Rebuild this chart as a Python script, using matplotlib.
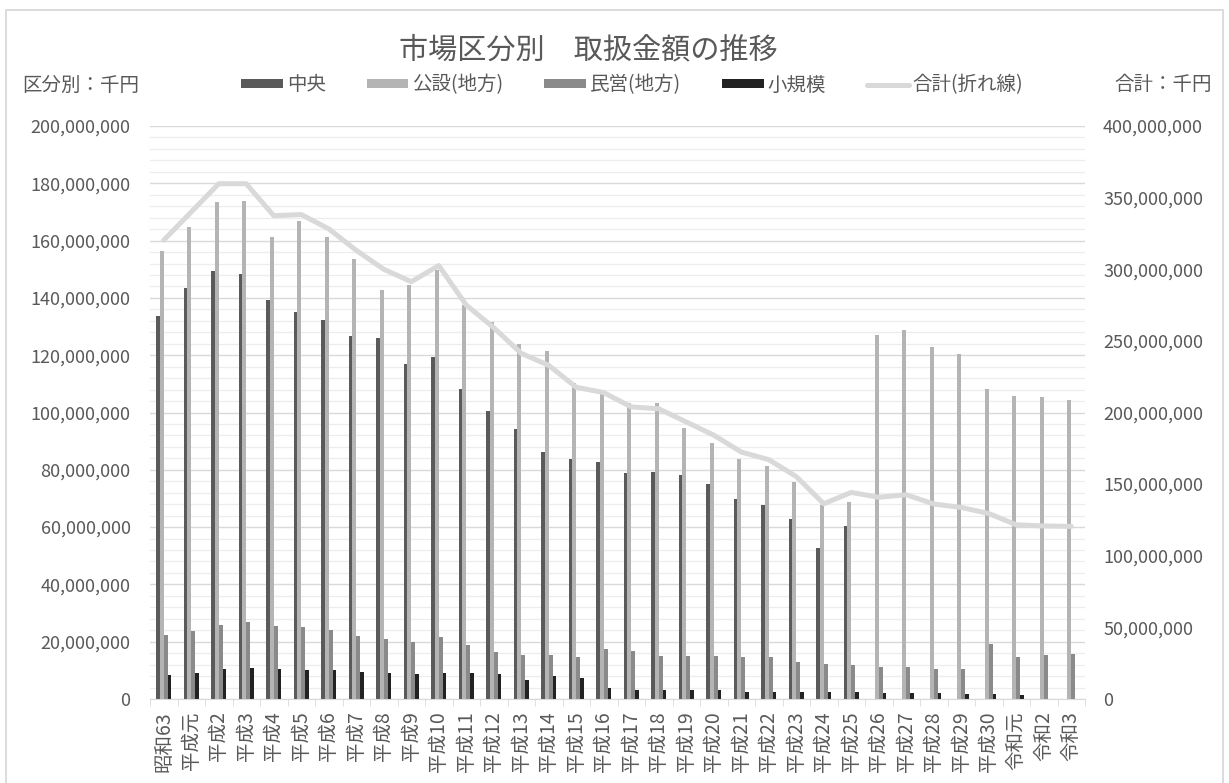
import numpy as np
import matplotlib
matplotlib.use("Agg")
import matplotlib.pyplot as plt
from matplotlib.ticker import FuncFormatter, MultipleLocator
from matplotlib.patches import Rectangle

plt.rcParams['font.family'] = ['Noto Sans CJK JP', 'DejaVu Sans']

# Data (千円)
years = ['昭和63', '平成元'] + [f'平成{i}' for i in range(2, 31)] + ['令和元', '令和2', '令和3']
series = ['中央', '公設(地方)', '民営(地方)', '小規模']
chuo = [133.6, 143.4, 149.3, 148.2, 139.3, 135.1, 132.2, 126.7, 126.1, 116.8, 119.3,
        108.3, 100.5, 94.3, 86.2, 83.9, 82.8, 78.9, 79.3, 78.2, 75.0, 69.7,
        67.8, 63.0, 52.6, 60.4, 0, 0, 0, 0, 0, 0, 0, 0]
kosetsu = [156.2, 164.6, 173.6, 173.7, 161.4, 166.7, 161.4, 153.6, 142.6, 144.6, 149.6,
           137.5, 131.6, 124.0, 121.4, 110.4, 107.8, 103.3, 103.3, 94.5, 89.2, 83.6,
           81.2, 75.9, 67.8, 68.9, 127.0, 128.9, 122.8, 120.5, 108.3, 105.9, 105.3, 104.3]
minei = [22.4, 23.7, 25.9, 27.0, 25.4, 25.3, 24.1, 22.1, 20.9, 19.9, 21.6,
         18.8, 16.4, 15.3, 15.4, 14.5, 17.6, 16.6, 15.1, 14.9, 15.1, 14.5,
         14.5, 12.8, 12.1, 11.7, 11.1, 11.1, 10.5, 10.3, 19.3, 14.5, 15.5, 15.8]
shokibo = [8.55, 9.2, 10.3, 10.8, 10.3, 10.1, 10.0, 9.5, 9.1, 8.9, 9.0,
           9.0, 8.6, 6.8, 7.9, 7.4, 3.9, 3.3, 3.3, 3.2, 3.0, 2.6,
           2.6, 2.6, 2.4, 2.5, 2.2, 2.2, 2.0, 1.8, 1.8, 1.3, 0, 0]
total = [320.3, 340.0, 359.7, 359.7, 337.4, 338.2, 328.2, 313.2, 300.0, 291.3, 302.6,
         275.0, 259.2, 241.3, 232.9, 217.6, 213.9, 203.9, 202.6, 193.4, 184.2, 172.4,
         167.1, 155.3, 136.3, 144.2, 140.8, 142.6, 136.1, 133.7, 129.5, 121.6, 120.8, 120.5]

colors = ['#5a5a5a', '#b4b4b4', '#8a8a8a', '#222222']
line_color = '#d9d9d9'
text_color = '#595959'

W, H = 1229, 783
fig = plt.figure(figsize=(W / 100, H / 100), dpi=100)
ax = fig.add_axes([150 / W, 1 - 699 / H, (1085 - 150) / W, (699 - 126) / H])

x = np.arange(len(years))
bw = 0.14
for i, (name, vals) in enumerate(zip(series, [chuo, kosetsu, minei, shokibo])):
    ax.bar(x + (i - 1.5) * bw, np.array(vals) * 1e6, bw, color=colors[i], label=name, zorder=2)

ax.set_xlim(-0.5, len(years) - 0.5)
ax.set_ylim(0, 200e6)
ax.yaxis.set_major_locator(MultipleLocator(20e6))
ax.yaxis.set_minor_locator(MultipleLocator(4e6))
ax.yaxis.set_major_formatter(FuncFormatter(lambda v, p: f'{v:,.0f}'))
ax.grid(axis='y', which='major', color='#d9d9d9', lw=1.0, zorder=0)
ax.grid(axis='y', which='minor', color='#ededed', lw=0.9, zorder=0)
ax.set_axisbelow(True)
for s in ['top', 'left', 'right']:
    ax.spines[s].set_visible(False)
ax.spines['bottom'].set_color('#d9d9d9')
ax.set_xticks(x)
ax.set_xticklabels(years, rotation=90, fontsize=14, color=text_color, va='top')
ax.set_xticks(np.arange(-0.5, len(years), 1), minor=True)
ax.tick_params(axis='x', which='major', length=0, pad=9)
ax.tick_params(axis='x', which='minor', length=5, color='#d9d9d9')
ax.tick_params(axis='y', which='both', length=0, pad=14, labelsize=13, labelcolor=text_color)

ax2 = ax.twinx()
ax2.plot(x, np.array(total) * 1e6, color=line_color, lw=3.6, solid_joinstyle='round',
         solid_capstyle='round', label='合計(折れ線)', zorder=3)
ax2.set_ylim(0, 400e6)
ax2.yaxis.set_major_locator(MultipleLocator(50e6))
ax2.yaxis.set_major_formatter(FuncFormatter(lambda v, p: f'{v:,.0f}'))
for s in ax2.spines.values():
    s.set_visible(False)
ax2.tick_params(axis='y', length=0, pad=13, labelsize=13, labelcolor=text_color)

# Title, unit labels, legend
fig.text(588 / W, 1 - 50 / H, '市場区分別　取扱金額の推移', ha='center', va='center',
         fontsize=21, color=text_color)
fig.text(22 / W, 1 - 85 / H, '区分別：千円', ha='left', va='center', fontsize=14, color=text_color)
fig.text(1212 / W, 1 - 85 / H, '合計：千円', ha='right', va='center', fontsize=14, color=text_color)

h1, l1 = ax.get_legend_handles_labels()
h2, l2 = ax2.get_legend_handles_labels()
fig.legend(h1 + h2, l1 + l2, loc='center left', bbox_to_anchor=(241 / W, 1 - 85 / H),
           ncol=5, frameon=False, fontsize=14, labelcolor=text_color,
           handlelength=2.15, handleheight=0.4, handletextpad=0.2, columnspacing=2.1,
           borderpad=0, borderaxespad=0)

fig.patches.append(Rectangle((6 / W, -0.01), (1223 - 6) / W, 1.01 - 10 / H,
                             transform=fig.transFigure, fill=False,
                             edgecolor='#d9d9d9', lw=1.3))

fig.savefig('out.png', dpi=100)
